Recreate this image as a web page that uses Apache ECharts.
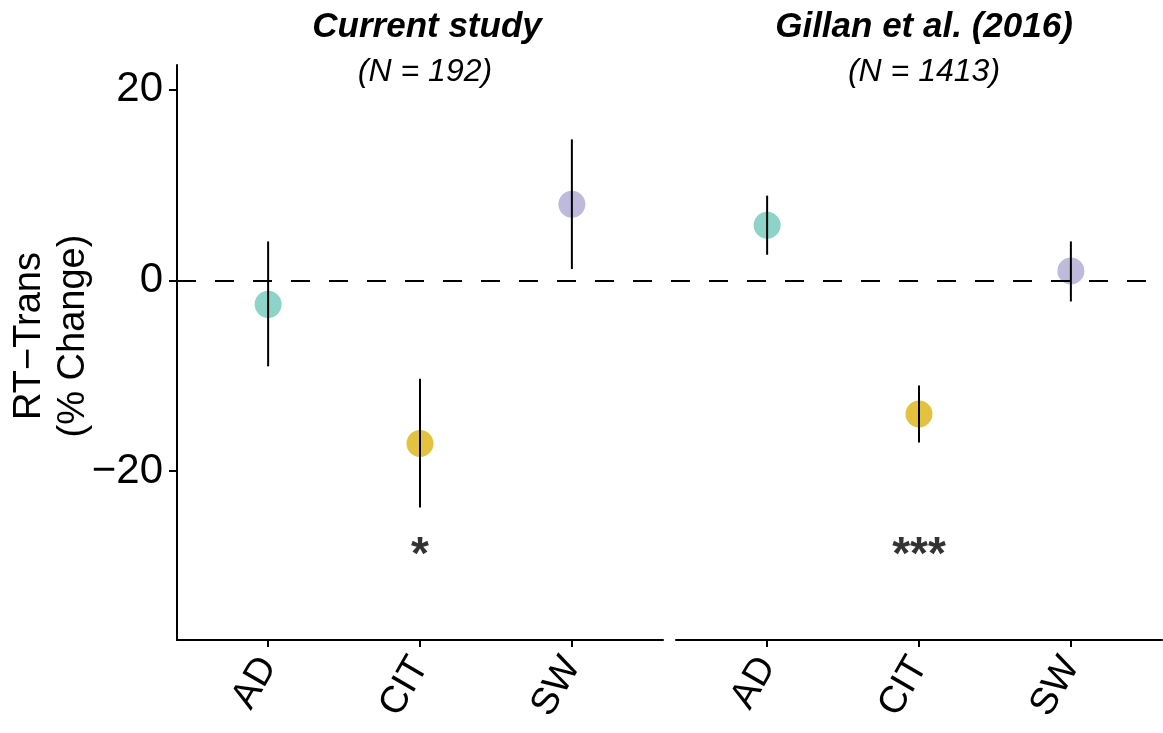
<!DOCTYPE html>
<html>
<head>
<meta charset="utf-8">
<script src="https://cdn.jsdelivr.net/npm/echarts@6/dist/echarts.min.js"></script>
<style>
  html, body { margin: 0; padding: 0; background: #fff; }
  #chart { width: 1163px; height: 733px; }
</style>
</head>
<body>
<div id="chart"></div>
<script>
const categories = ['AD', 'CIT', 'SW']
const colors = ['#8dd3c7', '#e3c23f', '#bdbadb']

// current study (N = 192)
const currentMean = [-2.5, -17.1, 8.0]
const currentLow = [-9.0, -23.8, 1.2]
const currentHigh = [4.1, -10.3, 14.8]
const currentSig = ['', '*', '']

// Gillan et al. (2016) (N = 1413)
const gillanMean = [5.8, -14.0, 1.0]
const gillanLow = [2.7, -17.0, -2.2]
const gillanHigh = [8.9, -11.0, 4.1]
const gillanSig = ['', '***', '']

const sigY = -28
const yTicks = [-20, 0, 20]
const catPos = [1, 2, 3]
const yMin = -37.7
const yMax = 22.6

const font = 'Liberation Sans, Arial, sans-serif'
const minus = v => String(v).replace('-', '\u2212')

const xAxisFor = idx => ({
  type: 'value', gridIndex: idx, min: 0.4, max: 3.6,
  axisLine: { show: true, onZero: false, lineStyle: { color: '#000', width: 2 } },
  axisTick: { show: true, customValues: catPos, length: 7, lineStyle: { color: '#000', width: 2 } },
  axisLabel: {
    customValues: catPos, rotate: 60, margin: 20,
    fontSize: 38, color: '#000', fontFamily: font,
    formatter: v => categories[Math.round(v) - 1]
  },
  splitLine: { show: false }
})

const yAxisFor = (idx, visible) => ({
  type: 'value', gridIndex: idx, min: yMin, max: yMax,
  axisLine: { show: visible, onZero: false, lineStyle: { color: '#000', width: 2 } },
  axisTick: { show: visible, customValues: yTicks, length: 8, lineStyle: { color: '#000', width: 2 } },
  axisLabel: {
    show: visible, customValues: yTicks, fontSize: 42, color: '#000', fontFamily: font,
    margin: 14, formatter: minus
  },
  splitLine: { show: false }
})

const pointSeries = (idx, mean) => ({
  type: 'scatter', xAxisIndex: idx, yAxisIndex: idx,
  symbolSize: 27, z: 2,
  data: mean.map((m, i) => ({ value: [catPos[i], m], itemStyle: { color: colors[i], opacity: 1 } }))
})

const errorSeries = (idx, low, high) => ({
  type: 'custom', xAxisIndex: idx, yAxisIndex: idx, z: 3,
  data: low.map((l, i) => [catPos[i], l, high[i]]),
  renderItem: (params, api) => {
    const a = api.coord([api.value(0), api.value(1)])
    const b = api.coord([api.value(0), api.value(2)])
    return {
      type: 'line',
      shape: { x1: a[0], y1: a[1], x2: b[0], y2: b[1] },
      style: { stroke: '#000', lineWidth: 2 }
    }
  }
})

const sigSeries = (idx, sig) => ({
  type: 'scatter', xAxisIndex: idx, yAxisIndex: idx,
  symbolSize: 1, itemStyle: { color: 'rgba(0,0,0,0)' },
  data: sig.map((s, i) => ({ value: [catPos[i], sigY], name: s })).filter(d => d.name),
  label: {
    show: true, position: 'inside', formatter: p => p.name,
    fontSize: 46, fontWeight: 'bold', color: '#000', fontFamily: font, textBorderWidth: 0, offset: [0, 9]
  }
})

const titleFor = (text, x, y, size, bold) => ({
  text: text, left: x, top: y, textAlign: 'center',
  textStyle: { fontSize: size, fontStyle: 'italic', fontWeight: bold ? 'bold' : 'normal', color: '#000', fontFamily: font }
})

const chart = echarts.init(document.getElementById('chart'))
chart.setOption({
  backgroundColor: '#fff',
  animation: false,
  title: [
    titleFor('Current study', 422, 5, 35, true),
    titleFor('(N = 192)', 420, 51, 32, false),
    titleFor('Gillan et al. (2016)', 919, 5, 35, true),
    titleFor('(N = 1413)', 919, 51, 32, false)
  ],
  graphic: [{
    type: 'text', x: 52, y: 336, rotation: Math.PI / 2,
    style: {
      text: 'RT\u2212Trans\n(% Change)', fontSize: 38, lineHeight: 44, fontFamily: font,
      fill: '#000', align: 'center', verticalAlign: 'middle'
    }
  }],
  grid: [
    { left: 177, width: 486, top: 65, height: 575 },
    { left: 676, width: 486, top: 65, height: 575 },
    // full-width layer for the dashed zero reference line
    { left: 177, width: 985, top: 65, height: 575 }
  ],
  xAxis: [xAxisFor(0), xAxisFor(1), { type: 'value', gridIndex: 2, min: 0, max: 1, show: false }],
  yAxis: [yAxisFor(0, true), yAxisFor(1, false), { type: 'value', gridIndex: 2, min: yMin, max: yMax, show: false }],
  series: [
    {
      type: 'line', xAxisIndex: 2, yAxisIndex: 2, data: [], z: 1,
      markLine: {
        silent: true, symbol: 'none', label: { show: false },
        lineStyle: { color: '#000', width: 2, type: [19, 19] },
        data: [{ yAxis: 0 }]
      }
    },
    pointSeries(0, currentMean),
    errorSeries(0, currentLow, currentHigh),
    sigSeries(0, currentSig),
    pointSeries(1, gillanMean),
    errorSeries(1, gillanLow, gillanHigh),
    sigSeries(1, gillanSig)
  ]
})
</script>
</body>
</html>
